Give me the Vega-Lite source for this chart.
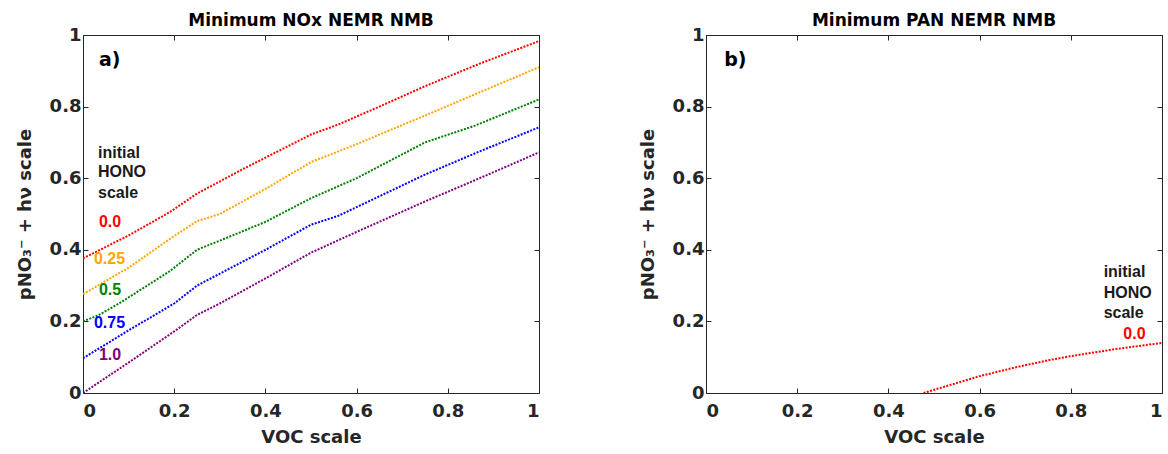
{
  "$schema": "https://vega.github.io/schema/vega-lite/v6.json",
  "background": "white",
  "padding": {"left": 15, "top": 11, "right": 0, "bottom": 0},
  "spacing": 98,
  "config": {
    "font": "DejaVu Sans",
    "view": {"stroke": "#262626", "strokeWidth": 1},
    "axis": {
      "labelFont": "DejaVu Sans", "labelFontWeight": "bold", "labelFontSize": 18, "labelColor": "#262626",
      "titleFont": "DejaVu Sans", "titleFontWeight": "bold", "titleFontSize": 18, "titleColor": "#262626",
      "domainColor": "#262626", "tickColor": "#262626", "tickSize": -5, "grid": false, "labelPadding": 7
    },
    "title": {"font": "DejaVu Sans", "fontSize": 17, "fontWeight": "bold", "color": "#000000", "offset": -4}
  },
  "datasets": {
    "nox": [
      {"hono": "0.0", "voc": 0, "val": 0.376}, {"hono": "0.0", "voc": 0.1, "val": 0.44}, {"hono": "0.0", "voc": 0.19, "val": 0.505}, {"hono": "0.0", "voc": 0.25, "val": 0.557}, {"hono": "0.0", "voc": 0.35, "val": 0.625}, {"hono": "0.0", "voc": 0.5, "val": 0.722}, {"hono": "0.0", "voc": 0.56, "val": 0.75}, {"hono": "0.0", "voc": 0.65, "val": 0.8}, {"hono": "0.0", "voc": 0.75, "val": 0.857}, {"hono": "0.0", "voc": 0.87, "val": 0.92}, {"hono": "0.0", "voc": 1, "val": 0.983},
      {"hono": "0.25", "voc": 0, "val": 0.276}, {"hono": "0.25", "voc": 0.1, "val": 0.35}, {"hono": "0.25", "voc": 0.19, "val": 0.43}, {"hono": "0.25", "voc": 0.25, "val": 0.48}, {"hono": "0.25", "voc": 0.3, "val": 0.5}, {"hono": "0.25", "voc": 0.4, "val": 0.57}, {"hono": "0.25", "voc": 0.5, "val": 0.645}, {"hono": "0.25", "voc": 0.6, "val": 0.695}, {"hono": "0.25", "voc": 0.75, "val": 0.775}, {"hono": "0.25", "voc": 0.87, "val": 0.84}, {"hono": "0.25", "voc": 1, "val": 0.91},
      {"hono": "0.5", "voc": 0, "val": 0.2}, {"hono": "0.5", "voc": 0.035, "val": 0.218}, {"hono": "0.5", "voc": 0.079, "val": 0.25}, {"hono": "0.5", "voc": 0.19, "val": 0.34}, {"hono": "0.5", "voc": 0.25, "val": 0.4}, {"hono": "0.5", "voc": 0.32, "val": 0.436}, {"hono": "0.5", "voc": 0.4, "val": 0.478}, {"hono": "0.5", "voc": 0.5, "val": 0.544}, {"hono": "0.5", "voc": 0.6, "val": 0.6}, {"hono": "0.5", "voc": 0.75, "val": 0.7}, {"hono": "0.5", "voc": 0.86, "val": 0.747}, {"hono": "0.5", "voc": 1, "val": 0.82},
      {"hono": "0.75", "voc": 0, "val": 0.097}, {"hono": "0.75", "voc": 0.1, "val": 0.175}, {"hono": "0.75", "voc": 0.2, "val": 0.25}, {"hono": "0.75", "voc": 0.25, "val": 0.3}, {"hono": "0.75", "voc": 0.4, "val": 0.4}, {"hono": "0.75", "voc": 0.5, "val": 0.47}, {"hono": "0.75", "voc": 0.56, "val": 0.495}, {"hono": "0.75", "voc": 0.75, "val": 0.61}, {"hono": "0.75", "voc": 0.87, "val": 0.675}, {"hono": "0.75", "voc": 1, "val": 0.742},
      {"hono": "1.0", "voc": 0, "val": 0}, {"hono": "1.0", "voc": 0.1, "val": 0.085}, {"hono": "1.0", "voc": 0.2, "val": 0.172}, {"hono": "1.0", "voc": 0.25, "val": 0.218}, {"hono": "1.0", "voc": 0.3, "val": 0.25}, {"hono": "1.0", "voc": 0.4, "val": 0.32}, {"hono": "1.0", "voc": 0.5, "val": 0.392}, {"hono": "1.0", "voc": 0.6, "val": 0.45}, {"hono": "1.0", "voc": 0.75, "val": 0.535}, {"hono": "1.0", "voc": 0.87, "val": 0.6}, {"hono": "1.0", "voc": 1, "val": 0.672}
    ],
    "pan": [
      {"hono": "0.0", "voc": 0.477, "val": 0}, {"hono": "0.0", "voc": 0.55, "val": 0.028}, {"hono": "0.0", "voc": 0.6, "val": 0.047}, {"hono": "0.0", "voc": 0.68, "val": 0.072}, {"hono": "0.0", "voc": 0.753, "val": 0.092}, {"hono": "0.0", "voc": 0.8, "val": 0.103}, {"hono": "0.0", "voc": 0.9, "val": 0.123}, {"hono": "0.0", "voc": 1, "val": 0.14}
    ],
    "noxLabels": [
      {"hono": "0.0", "label": "0.0", "voc": 0.035, "val": 0.479},
      {"hono": "0.25", "label": "0.25", "voc": 0.024, "val": 0.373},
      {"hono": "0.5", "label": "0.5", "voc": 0.035, "val": 0.287},
      {"hono": "0.75", "label": "0.75", "voc": 0.024, "val": 0.195},
      {"hono": "1.0", "label": "1.0", "voc": 0.035, "val": 0.106}
    ],
    "noxHeader": [
      {"label": "initial", "voc": 0.033, "val": 0.671},
      {"label": "HONO", "voc": 0.033, "val": 0.616},
      {"label": "scale", "voc": 0.033, "val": 0.56}
    ],
    "panLabels": [
      {"hono": "0.0", "label": "0.0", "voc": 0.964, "val": 0.165}
    ],
    "panHeader": [
      {"label": "initial", "voc": 0.872, "val": 0.338},
      {"label": "HONO", "voc": 0.872, "val": 0.28},
      {"label": "scale", "voc": 0.872, "val": 0.224}
    ]
  },
  "hconcat": [
    {
      "width": 456, "height": 358,
      "title": {"text": "Minimum NOx NEMR NMB"},
      "resolve": {"axis": {"x": "independent", "y": "independent"}},
      "layer": [
        {
          "data": {"name": "nox"},
          "mark": {"type": "line", "strokeDash": [2, 1.4], "strokeWidth": 2, "clip": true},
          "encoding": {
            "x": {"field": "voc", "type": "quantitative", "scale": {"domain": [0, 1], "nice": false},
                  "axis": {"values": [0, 0.2, 0.4, 0.6, 0.8, 1], "format": "~g", "title": "VOC scale", "labelPadding": 14, "titlePadding": 8}},
            "y": {"field": "val", "type": "quantitative", "scale": {"domain": [0, 1], "nice": false},
                  "axis": {"values": [0, 0.2, 0.4, 0.6, 0.8, 1], "format": "~g", "title": "pNO₃⁻ + hν scale", "titlePadding": 15}},
            "color": {"field": "hono", "type": "nominal", "legend": null,
                      "scale": {"domain": ["0.0", "0.25", "0.5", "0.75", "1.0"], "range": ["#ff0000", "#ffa500", "#008000", "#0000ff", "#800080"]}},
            "detail": {"field": "hono"}
          }
        },
        {
          "data": {"name": "noxLabels"},
          "mark": {"type": "text", "font": "Liberation Sans", "fontWeight": "bold", "fontSize": 16, "align": "left", "baseline": "middle"},
          "encoding": {
            "x": {"field": "voc", "type": "quantitative", "axis": null},
            "y": {"field": "val", "type": "quantitative", "axis": null},
            "text": {"field": "label"},
            "color": {"field": "hono", "type": "nominal", "legend": null,
                      "scale": {"domain": ["0.0", "0.25", "0.5", "0.75", "1.0"], "range": ["#ff0000", "#ffa500", "#008000", "#0000ff", "#800080"]}}
          }
        },
        {
          "data": {"name": "noxHeader"},
          "mark": {"type": "text", "font": "Liberation Sans", "fontWeight": "bold", "fontSize": 16, "align": "left", "baseline": "middle", "color": "#1a1a1a"},
          "encoding": {
            "x": {"field": "voc", "type": "quantitative", "axis": {"orient": "top", "values": [0, 0.2, 0.4, 0.6, 0.8, 1], "labels": false, "domain": false, "title": null}},
            "y": {"field": "val", "type": "quantitative", "axis": {"orient": "right", "values": [0, 0.2, 0.4, 0.6, 0.8, 1], "labels": false, "domain": false, "title": null}},
            "text": {"field": "label"}
          }
        },
        {
          "data": {"values": [{"tag": "a)", "voc": 0.035, "val": 0.93}]},
          "mark": {"type": "text", "font": "DejaVu Sans", "fontWeight": "bold", "fontSize": 19, "align": "left", "baseline": "middle", "color": "#000000"},
          "encoding": {
            "x": {"field": "voc", "type": "quantitative", "axis": null},
            "y": {"field": "val", "type": "quantitative", "axis": null},
            "text": {"field": "tag"}
          }
        }
      ]
    },
    {
      "width": 456, "height": 358,
      "title": {"text": "Minimum PAN NEMR NMB"},
      "resolve": {"axis": {"x": "independent", "y": "independent"}},
      "layer": [
        {
          "data": {"name": "pan"},
          "mark": {"type": "line", "strokeDash": [2, 1.4], "strokeWidth": 2, "clip": true},
          "encoding": {
            "x": {"field": "voc", "type": "quantitative", "scale": {"domain": [0, 1], "nice": false},
                  "axis": {"values": [0, 0.2, 0.4, 0.6, 0.8, 1], "format": "~g", "title": "VOC scale", "labelPadding": 14, "titlePadding": 8}},
            "y": {"field": "val", "type": "quantitative", "scale": {"domain": [0, 1], "nice": false},
                  "axis": {"values": [0, 0.2, 0.4, 0.6, 0.8, 1], "format": "~g", "title": "pNO₃⁻ + hν scale", "titlePadding": 15}},
            "color": {"field": "hono", "type": "nominal", "legend": null,
                      "scale": {"domain": ["0.0", "0.25", "0.5", "0.75", "1.0"], "range": ["#ff0000", "#ffa500", "#008000", "#0000ff", "#800080"]}}
          }
        },
        {
          "data": {"name": "panLabels"},
          "mark": {"type": "text", "font": "Liberation Sans", "fontWeight": "bold", "fontSize": 16, "align": "right", "baseline": "middle"},
          "encoding": {
            "x": {"field": "voc", "type": "quantitative", "axis": null},
            "y": {"field": "val", "type": "quantitative", "axis": null},
            "text": {"field": "label"},
            "color": {"field": "hono", "type": "nominal", "legend": null,
                      "scale": {"domain": ["0.0", "0.25", "0.5", "0.75", "1.0"], "range": ["#ff0000", "#ffa500", "#008000", "#0000ff", "#800080"]}}
          }
        },
        {
          "data": {"name": "panHeader"},
          "mark": {"type": "text", "font": "Liberation Sans", "fontWeight": "bold", "fontSize": 16, "align": "left", "baseline": "middle", "color": "#1a1a1a"},
          "encoding": {
            "x": {"field": "voc", "type": "quantitative", "axis": {"orient": "top", "values": [0, 0.2, 0.4, 0.6, 0.8, 1], "labels": false, "domain": false, "title": null}},
            "y": {"field": "val", "type": "quantitative", "axis": {"orient": "right", "values": [0, 0.2, 0.4, 0.6, 0.8, 1], "labels": false, "domain": false, "title": null}},
            "text": {"field": "label"}
          }
        },
        {
          "data": {"values": [{"tag": "b)", "voc": 0.04, "val": 0.93}]},
          "mark": {"type": "text", "font": "DejaVu Sans", "fontWeight": "bold", "fontSize": 19, "align": "left", "baseline": "middle", "color": "#000000"},
          "encoding": {
            "x": {"field": "voc", "type": "quantitative", "axis": null},
            "y": {"field": "val", "type": "quantitative", "axis": null},
            "text": {"field": "tag"}
          }
        }
      ]
    }
  ]
}
